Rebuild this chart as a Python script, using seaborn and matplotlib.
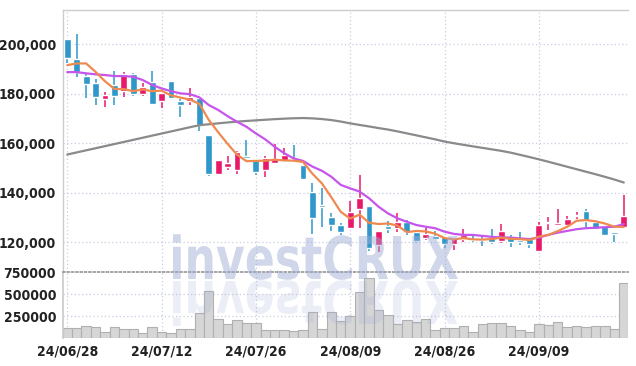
import matplotlib
matplotlib.use("Agg")
import matplotlib.pyplot as plt
import seaborn as sns
import numpy as np
import pandas as pd
from matplotlib.textpath import TextPath
from matplotlib.patches import PathPatch
from matplotlib.font_manager import FontProperties, findfont
from matplotlib.transforms import Affine2D, IdentityTransform


# Data (daily candles, 60 trading days)
opens = [202100, 194100, 187300, 184400, 177900, 183600, 181300, 188000, 180000, 184800,
         177200, 185200, 177100, 177000, 178200, 163400, 147700, 150400, 149200, 154900,
         153500, 149200, 152200, 153000, 154100, 151200, 140200, 135100, 130400, 127000,
         125900, 133600, 134700, 118900, 126700, 125900, 128200, 124200, 121900, 122600,
         122300, 119200, 121500, 121400, 121300, 122300, 120700, 122000, 120900, 121200,
         116600, 127700, 127100, 127000, 130800, 132700, 128200, 126600, 124100, 126300]
highs = [202200, 204000, 188000, 185900, 180700, 189300, 188900, 188300, 184200, 189200,
         180200, 185300, 177800, 182200, 178300, 163400, 153300, 154800, 157000, 161300,
         153600, 155000, 159600, 158000, 159200, 151300, 143800, 141800, 131700, 127700,
         136700, 147100, 134700, 124600, 128600, 131700, 129000, 124200, 125700, 124600,
         122300, 121700, 125300, 123100, 122600, 125400, 127300, 123000, 124100, 121300,
         128100, 130100, 133300, 130600, 132400, 133500, 128300, 126600, 124100, 139100]
lows = [192300, 186900, 178200, 175500, 174600, 175500, 178600, 179200, 179100, 175400,
        174100, 178100, 170800, 175600, 165100, 146900, 147500, 149200, 147500, 153900,
        147200, 146300, 151800, 152600, 153500, 145300, 123400, 126300, 124700, 123000,
        125800, 125700, 116500, 116200, 123600, 124300, 123000, 119900, 120900, 120900,
        117800, 116900, 120300, 120300, 118500, 119200, 119900, 118200, 118900, 117600,
        116400, 125000, 127000, 126700, 129300, 125400, 125100, 122600, 120300, 126300]
closes = [194600, 188700, 184000, 178800, 179500, 179100, 188000, 179900, 182600, 176000,
          180200, 178300, 175600, 178600, 167300, 147700, 153300, 152100, 156600, 154100,
          148400, 153900, 153800, 155300, 153700, 145600, 130000, 134400, 127100, 124300,
          132300, 137900, 117800, 124600, 125500, 128300, 124100, 120500, 123400, 121300,
          119200, 121600, 122800, 121000, 121000, 120300, 124600, 120300, 120300, 119200,
          127000, 128200, 127800, 129400, 131200, 128600, 125500, 123100, 123200, 130600]
volumes = [115000, 115000, 141000, 126000, 73000, 126000, 104000, 104000, 58000, 126000,
           73000, 58000, 104000, 104000, 284000, 535000, 216000, 160000, 205000, 171000,
           171000, 92000, 92000, 92000, 81000, 92000, 295000, 104000, 295000, 197000,
           253000, 520000, 678000, 321000, 265000, 163000, 208000, 178000, 216000, 96000,
           115000, 115000, 141000, 73000, 163000, 175000, 175000, 141000, 96000, 73000,
           163000, 152000, 186000, 130000, 141000, 130000, 141000, 141000, 107000, 622000]

# moving averages
ma5 = [191600, 192300, 192300, 188900, 185100, 182000, 181900, 181100, 181800, 181100,
       181300, 179400, 178500, 177700, 176000, 169500, 164500, 159800, 155400, 152800,
       152900, 153000, 153400, 153100, 153000, 152500, 147700, 143800, 138200, 132300,
       129600, 131200, 127900, 127400, 127600, 126800, 124100, 124600, 124400, 123500,
       121700, 121200, 121700, 121200, 121100, 121300, 121900, 121400, 121300, 120900,
       122300, 123000, 124500, 126300, 128700, 129000, 128500, 127600, 126300, 126200]
ma20 = [188800, 188800, 188300, 187900, 187600, 187200, 187200, 186900, 185600, 183600,
        182200, 181100, 180200, 179900, 178600, 175500, 173500, 171000, 168700, 166700,
        164000, 161600, 158600, 156000, 153900, 152900, 150600, 148900, 146500, 143200,
        141800, 140500, 137800, 134400, 131700, 129700, 128300, 127000, 126300, 125700,
        124300, 123400, 123000, 123000, 122600, 122200, 122000, 121900, 121600, 121300,
        121900, 123000, 123900, 124600, 125300, 125700, 125900, 126100, 126300, 127400]
ma_long = [155480, 156330, 157180, 158020, 158870, 159720, 160570, 161420, 162270, 163120,
           163960, 164810, 165660, 166510, 167320, 167720, 168080, 168450, 168770, 169050,
           169300, 169540, 169780, 169980, 170140, 170230, 170100, 169820, 169420, 168810,
           168080, 167440, 166830, 166180, 165580, 164850, 164040, 163240, 162430, 161620,
           160730, 160040, 159400, 158790, 158180, 157580, 156970, 156250, 155360, 154470,
           153540, 152570, 151560, 150550, 149540, 148530, 147520, 146470, 145380, 144170]

tick_pos = [0, 10, 20, 30, 40, 50]
tick_labels = ["24/06/28", "24/07/12", "24/07/26", "24/08/09", "24/08/26", "24/09/09"]
price_ticks = [120000, 140000, 160000, 180000, 200000]
vol_ticks = [250000, 500000, 750000]


UP = "#e8196a"
DOWN = "#2f97c9"
GRID = "#c9cde0"
TXT = "#222222"

sns.set_theme(style="white")

# condensed face for the tick labels if one is installed
cond = FontProperties(family="DejaVu Sans", stretch="condensed", weight="bold")
if "Condensed" in findfont(cond):
    tick_font = dict(family="DejaVu Sans", stretch="condensed", weight="bold", size=10)
else:
    tick_font = dict(family=["Roboto", "DejaVu Sans"], weight="bold", size=9.5)

df = pd.DataFrame({
    "idx": np.arange(len(closes)),
    "open": opens, "high": highs, "low": lows, "close": closes,
    "volume": volumes, "ma5": ma5, "ma20": ma20, "ma_long": ma_long,
})

fig = plt.figure(figsize=(6.36, 3.66), dpi=100)
ax = fig.add_axes([63 / 636, 94 / 366, 565 / 636, 262 / 366])
axv = fig.add_axes([63 / 636, 28 / 366, 565 / 636, 66 / 366], sharex=ax)


# Price panel
for a in (ax, axv):
    a.grid(False)
    for x in tick_pos:
        a.axvline(x, color=GRID, linestyle=(0, (1, 2)), linewidth=0.9, zorder=0)

for y in price_ticks:
    ax.axhline(y, color=GRID, linestyle=(0, (1, 2)), linewidth=0.9, zorder=0)

up = df["close"] >= df["open"]
colors = np.where(up, UP, DOWN)
body_lo = df[["open", "close"]].min(axis=1)
body_h = (df["close"] - df["open"]).abs().clip(lower=350)

ax.vlines(df["idx"], df["low"], df["high"], colors=colors, linewidth=1.1, zorder=2)
ax.bar(df["idx"], body_h, bottom=body_lo, width=0.72, color=colors, zorder=3)

sns.lineplot(data=df, x="idx", y="ma_long", color="#8a8a8a", linewidth=1.6, ax=ax, zorder=4)
sns.lineplot(data=df, x="idx", y="ma20", color="#c655ec", linewidth=1.6, ax=ax, zorder=4)
sns.lineplot(data=df, x="idx", y="ma5", color="#ee8a50", linewidth=1.6, ax=ax, zorder=4)

ax.set_xlim(-0.45, 59.45)
ax.set_ylim(108000, 213900)
ax.set_yticks(price_ticks)
ax.set_yticklabels([f"{v:,}" for v in price_ticks], fontdict=tick_font, color=TXT)
ax.set_xlabel("")
ax.set_ylabel("")
ax.tick_params(axis="x", labelbottom=False, length=0)
ax.tick_params(axis="y", length=0, pad=5)

for s in ["right", "bottom"]:
    ax.spines[s].set_visible(False)
for s in ["left", "top"]:
    ax.spines[s].set_color("#cccccc")
    ax.spines[s].set_linewidth(1)


# Volume panel
for y in vol_ticks[:2]:
    axv.axhline(y, color=GRID, linestyle=(0, (1, 2)), linewidth=0.9, zorder=0)

axv.bar(df["idx"], df["volume"], width=1.0, color="#d6d6d6",
        edgecolor="#b0b0b0", linewidth=0.8, zorder=2)

axv.set_ylim(0, 750000)
axv.set_yticks(vol_ticks)
axv.set_yticklabels([str(v) for v in vol_ticks], fontdict=tick_font, color=TXT)
axv.set_xticks(tick_pos)
axv.set_xticklabels(tick_labels, fontdict=tick_font, color=TXT)
axv.tick_params(axis="both", length=0, pad=5)
axv.set_xlabel("")
axv.set_ylabel("")

axv.spines["top"].set_color("#999999")
axv.spines["top"].set_linestyle((0, (1, 1.5)))
axv.spines["left"].set_color("#cccccc")
for s in ["right", "bottom"]:
    axv.spines[s].set_visible(False)


# Watermark with reflection
wm_prop = FontProperties(family="DejaVu Sans", weight="bold")
tp = TextPath((0, 0), "investCRUX", size=1, prop=wm_prop)
ext = tp.get_extents()
sx = 285 / ext.width
sy = 59.0
x0 = 173 - ext.x0 * sx
base = 366 - 279

tr = Affine2D().scale(sx, sy).translate(x0, base)
wm = PathPatch(tr.transform_path(tp), facecolor="#9eabd3", edgecolor="none",
               alpha=0.47, transform=IdentityTransform(), zorder=6)
fig.add_artist(wm)

tr2 = Affine2D().scale(sx, -sy).translate(x0, 366 - 281)
wm2 = PathPatch(tr2.transform_path(tp), facecolor="#9eabd3", edgecolor="none",
                alpha=0.2, transform=IdentityTransform(), zorder=6)
wm2.set_clip_path(axv.patch)
axv.add_artist(wm2)

fig.savefig("out.png", dpi=100)
